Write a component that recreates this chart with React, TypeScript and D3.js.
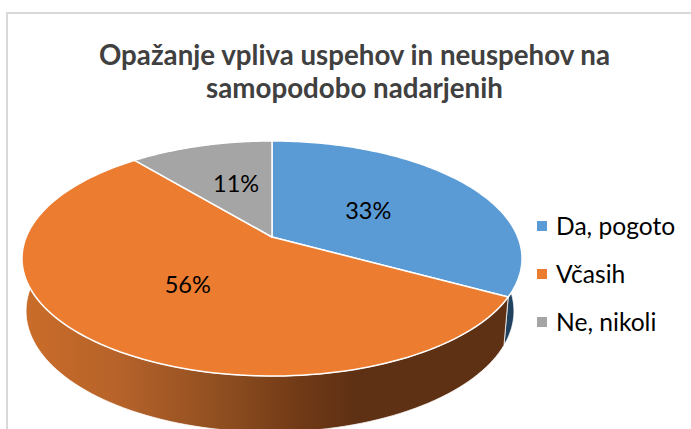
import React from "react";
import * as d3 from "d3";

const categories = ["Da, pogoto", "Včasih", "Ne, nikoli"];
const values = [33, 56, 11];
const labels = ["33%", "56%", "11%"];
const titleLines = ["Opažanje vpliva uspehov in neuspehov na", "samopodobo nadarjenih"];
const faceColors = ["#5B9BD5", "#EC7C30", "#A5A5A5"];
const labelRadii = [0.47, 0.5, 0.55];
const labelShift = [1, 0, 6];

const W = 691;
const H = 429;
const FONT = "Lato, Carlito, Calibri, sans-serif";
const top = { cx: 272, cy: 237, r: 245.8, s: 113.6, k: 0.183 };
const bottom = { cx: 270, cy: 283.2, r: 237.4, s: 114.6, k: 0.23 };

type Proj = { cx: number; cy: number; r: number; s: number; k: number };
// Perspective projection of a point on the pie's disc (angle clockwise from 12 o'clock)
const project = (p: Proj, a: number, f = 1): [number, number] => {
  const x = Math.sin(a) * f;
  const y = -Math.cos(a) * f;
  const w = 1 - p.k * y;
  return [p.cx + (p.r * x) / w, p.cy + (p.s * y) / w];
};

const arcs = d3.pie<number>().sort(null)(values);
const color = d3.scaleOrdinal<number, string>().domain([0, 1, 2]).range(faceColors);
const line = d3.line();

const arcPoints = (p: Proj, a0: number, a1: number) =>
  d3.range(0, 121).map((i) => project(p, a0 + ((a1 - a0) * i) / 120));

const facePath = (a0: number, a1: number) =>
  line([[top.cx, top.cy], ...arcPoints(top, a0, a1)]) + "Z";
const sidePath = (a0: number, a1: number) =>
  line([...arcPoints(top, a0, a1), ...arcPoints(bottom, a0, a1).reverse()]) + "Z";

const sideFills = ["#21425F", "url(#orangeSide)", "#636363"];
const legendY = [226, 274, 322];

export default function App() {
  return (
    <svg
      width={W}
      height={H}
      viewBox={`0 0 ${W} ${H}`}
      style={{ position: "absolute", left: 0, top: 0, display: "block", background: "#fff" }}
    >
      <defs>
        <linearGradient id="orangeSide" gradientUnits="userSpaceOnUse" x1={22} x2={522} y1={0} y2={0}>
          <stop offset="0" stopColor="#CB6D29" />
          <stop offset="0.2" stopColor="#B5622A" />
          <stop offset="0.4" stopColor="#8F4E20" />
          <stop offset="0.56" stopColor="#703916" />
          <stop offset="0.66" stopColor="#5F3114" />
          <stop offset="1" stopColor="#5F3114" />
        </linearGradient>
      </defs>
      <rect x={7} y={13} width={W + 20} height={H + 20} fill="#fff" stroke="#D9D9D9" strokeWidth={2} />
      {titleLines.map((t, i) => (
        <text
          key={t}
          x={354.5}
          y={64.5 + i * 33}
          textAnchor="middle"
          fontFamily={FONT}
          fontWeight={700}
          fontSize={27.7}
          fill="#404040"
        >
          {t}
        </text>
      ))}
      {arcs.map((d, i) => (
        <path
          key={"s" + i}
          d={sidePath(d.startAngle, d.endAngle)}
          fill={sideFills[i]}
          stroke="#fff"
          strokeWidth={0.75}
        />
      ))}
      {arcs.map((d, i) => (
        <path
          key={"f" + i}
          d={facePath(d.startAngle, d.endAngle)}
          fill={color(i)}
          stroke="#fff"
          strokeWidth={1.5}
          strokeLinejoin="round"
        />
      ))}
      {arcs.map((d, i) => {
        const [x, y] = project(top, (d.startAngle + d.endAngle) / 2, labelRadii[i]);
        return (
          <text
            key={"l" + i}
            x={x + labelShift[i]}
            y={y}
            dy="0.36em"
            textAnchor="middle"
            fontFamily={FONT}
            fontSize={23.5}
            fill="#000"
          >
            {labels[i]}
          </text>
        );
      })}
      {categories.map((c, i) => (
        <g key={c}>
          <rect x={537} y={legendY[i] - 5} width={10} height={10} fill={color(i)} />
          <text x={556} y={legendY[i]} dy="0.36em" fontFamily={FONT} fontSize={24.6} fill="#000">
            {c}
          </text>
        </g>
      ))}
    </svg>
  );
}
